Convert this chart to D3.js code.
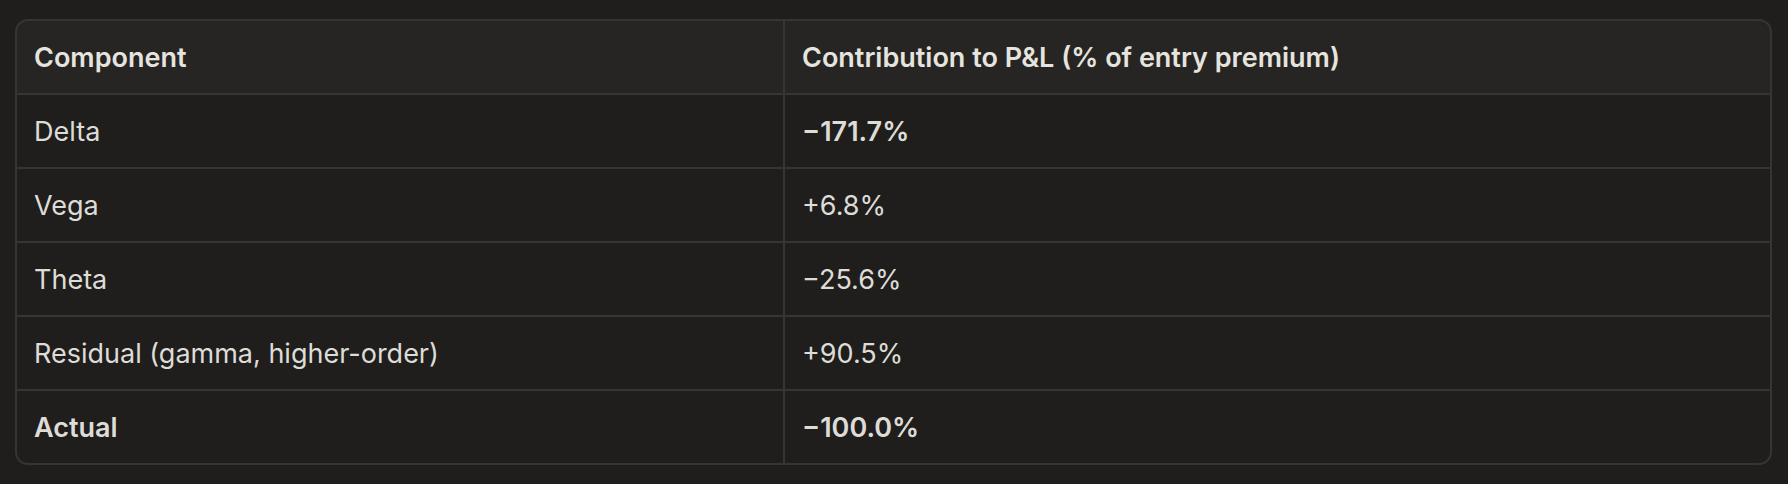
<!DOCTYPE html>
<html>
<head>
<meta charset="utf-8">
<script src="https://cdn.jsdelivr.net/npm/d3@7"></script>
<style>
  html, body { margin: 0; padding: 0; background: #1f1e1d; }
  svg { display: block; }
  text { font-family: Inter, "Noto Sans", sans-serif; }
</style>
</head>
<body>
<svg id="chart" width="1788" height="484"></svg>
<script>
// table content
const headers = ["Component", "Contribution to P&L (% of entry premium)"];
const components = ["Delta", "Vega", "Theta", "Residual (gamma, higher-order)", "Actual"];
const contributions = [-171.7, 6.8, -25.6, 90.5, -100.0];

const fmt = v => (v < 0 ? "\u2212" : "+") + Math.abs(v).toFixed(1) + "%";

const svg = d3.select("#chart");
const width = +svg.attr("width");
const height = +svg.attr("height");

const tLeft = 16, tRight = 1771, tTop = 20, tBottom = 464;
const split = 784;
const pad = 18;

// rows: header + one per component
const rows = ["__header"].concat(components);
const y = d3.scaleBand().domain(rows).range([tTop, tBottom]);
const x = d3.scaleOrdinal().domain([0, 1]).range([tLeft + pad, split + pad]);

svg.append("rect")
  .attr("width", width)
  .attr("height", height)
  .attr("fill", "#1f1e1d");

// clip for rounded table
svg.append("clipPath").attr("id", "tbl")
  .append("rect")
  .attr("x", tLeft).attr("y", tTop)
  .attr("width", tRight - tLeft).attr("height", tBottom - tTop)
  .attr("rx", 12);

const g = svg.append("g").attr("clip-path", "url(#tbl)");

g.append("rect")
  .attr("x", tLeft).attr("y", tTop)
  .attr("width", tRight - tLeft).attr("height", tBottom - tTop)
  .attr("fill", "#1f1e1d");

// header background
g.append("rect")
  .attr("x", tLeft).attr("y", y("__header"))
  .attr("width", tRight - tLeft).attr("height", y.bandwidth())
  .attr("fill", "#262523");

// row separators
g.selectAll("line.row")
  .data(components)
  .enter()
  .append("line")
  .attr("class", "row")
  .attr("x1", tLeft).attr("x2", tRight)
  .attr("y1", d => y(d)).attr("y2", d => y(d))
  .attr("stroke", "#363532")
  .attr("stroke-width", 2);

// column separator
g.append("line")
  .attr("x1", split).attr("x2", split)
  .attr("y1", tTop).attr("y2", tBottom)
  .attr("stroke", "#363532")
  .attr("stroke-width", 2);

// outer border
svg.append("rect")
  .attr("x", tLeft).attr("y", tTop)
  .attr("width", tRight - tLeft).attr("height", tBottom - tTop)
  .attr("rx", 12)
  .attr("fill", "none")
  .attr("stroke", "#363532")
  .attr("stroke-width", 2);

const fontSize = 27;

// header text
svg.selectAll("text.head")
  .data(headers)
  .enter()
  .append("text")
  .attr("class", "head")
  .attr("x", (d, i) => x(i))
  .attr("y", y("__header") + y.bandwidth() / 2)
  .attr("dy", "0.36em")
  .attr("font-size", fontSize)
  .attr("font-weight", 600)
  .attr("fill", "#e6e4df")
  .text(d => d);

// body rows
const body = svg.selectAll("g.body")
  .data(components)
  .enter()
  .append("g")
  .attr("class", "body")
  .attr("transform", d => "translate(0," + (y(d) + y.bandwidth() / 2) + ")");

body.append("text")
  .attr("x", x(0))
  .attr("dy", "0.36em")
  .attr("font-size", fontSize)
  .attr("font-weight", d => d === "Actual" ? 600 : 400)
  .attr("fill", "#dedcd7")
  .text(d => d);

body.append("text")
  .attr("x", x(1))
  .attr("dy", "0.36em")
  .attr("font-size", fontSize)
  .attr("font-weight", d => (d === "Actual" || d === "Delta") ? 600 : 400)
  .attr("fill", "#dedcd7")
  .text((d, i) => fmt(contributions[i]));
</script>
</body>
</html>
